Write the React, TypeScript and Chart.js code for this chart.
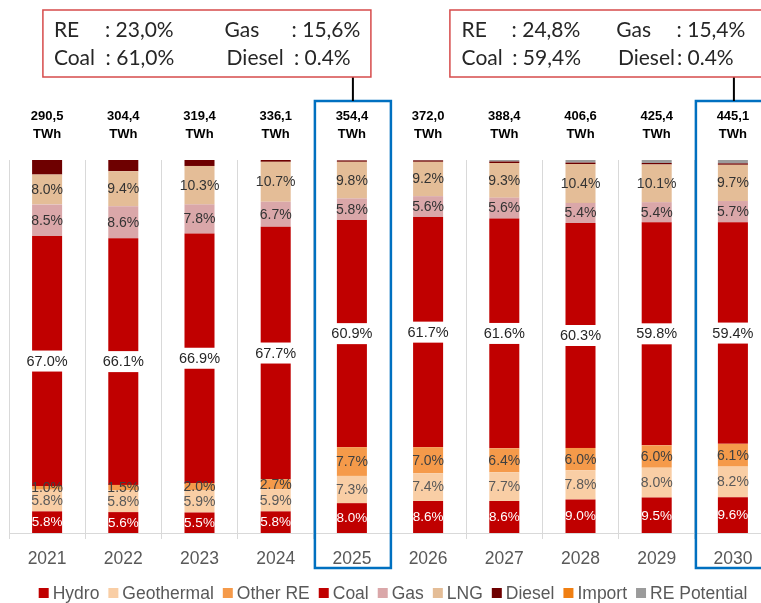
import { useEffect, useRef } from 'react';
import { Chart, registerables } from 'chart.js';

Chart.register(...registerables);

const years = ['2021', '2022', '2023', '2024', '2025', '2026', '2027', '2028', '2029', '2030'];
const hydro = [5.8, 5.6, 5.5, 5.8, 8.0, 8.6, 8.6, 9.0, 9.5, 9.6];
const geothermal = [5.8, 5.8, 5.9, 5.9, 7.3, 7.4, 7.7, 7.8, 8.0, 8.2];
const otherRE = [1.0, 1.5, 2.0, 2.7, 7.7, 7.0, 6.4, 6.0, 6.0, 6.1];
const coal = [67.0, 66.1, 66.9, 67.7, 60.9, 61.7, 61.6, 60.3, 59.8, 59.4];
const gas = [8.5, 8.6, 7.8, 6.7, 5.8, 5.6, 5.6, 5.4, 5.4, 5.7];
const lng = [8.0, 9.4, 10.3, 10.7, 9.8, 9.2, 9.3, 10.4, 10.1, 9.7];
const diesel = [3.9, 3.0, 1.6, 0.5, 0.4, 0.4, 0.4, 0.4, 0.4, 0.4];
const importShare = [0, 0, 0, 0, 0, 0, 0, 0, 0, 0];
const rePotential = [0, 0, 0, 0, 0, 0.1, 0.4, 0.7, 0.8, 0.9];
const totalsTWh = ['290,5', '304,4', '319,4', '336,1', '354,4', '372,0', '388,4', '406,6', '425,4', '445,1'];

const highlightYears = ['2025', '2030'];
const summaryLabels = ['RE', 'Gas', 'Coal', 'Diesel'];
const summary2025 = ['23,0%', '15,6%', '61,0%', '0.4%'];
const summary2030 = ['24,8%', '15,4%', '59,4%', '0.4%'];

const FONT = "'Liberation Sans', Arial, sans-serif";
const BOX_FONT = "Lato, 'Liberation Sans', sans-serif";

const series = [
  { label: 'Hydro', data: hydro, color: '#C00000', text: '#FFFFFF', size: 13.5 },
  { label: 'Geothermal', data: geothermal, color: '#F9CEA5', text: '#595959', size: 14 },
  { label: 'Other RE', data: otherRE, color: '#F59A4A', text: '#404040', size: 14 },
  { label: 'Coal', data: coal, color: '#C00000', text: '#262626', size: 14.5 },
  { label: 'Gas', data: gas, color: '#DAA7A9', text: '#333333', size: 14 },
  { label: 'LNG', data: lng, color: '#E4BD97', text: '#333333', size: 14 },
  { label: 'Diesel', data: diesel, color: '#6E0000', text: '', size: 0 },
  { label: 'Import', data: importShare, color: '#F07F12', text: '', size: 0 },
  { label: 'RE Potential', data: rePotential, color: '#9B9B9B', text: '', size: 0 },
];

const overlay = {
  id: 'overlay',
  afterDatasetsDraw(chart: any) {
    const ctx = chart.ctx as CanvasRenderingContext2D;
    ctx.save();
    ctx.textAlign = 'center';
    ctx.textBaseline = 'middle';
    series.forEach((s, i) => {
      if (!s.size) return;
      const meta = chart.getDatasetMeta(i);
      meta.data.forEach((bar: any, j: number) => {
        const v = s.data[j];
        if (!v) return;
        const p = bar.getProps(['x', 'y', 'base'], true);
        const cy = (p.y + p.base) / 2;
        const txt = v.toFixed(1) + '%';
        ctx.font = `${s.size}px ${FONT}`;
        if (s.label === 'Coal') {
          const w = ctx.measureText(txt).width + 2;
          ctx.fillStyle = '#FFFFFF';
          ctx.fillRect(p.x - w / 2, cy - 10.5, w, 21);
        }
        ctx.fillStyle = s.text;
        ctx.fillText(txt, p.x, cy + 0.5);
      });
    });
    ctx.restore();
  },
  afterDraw(chart: any) {
    const ctx = chart.ctx as CanvasRenderingContext2D;
    const xs = chart.scales.x;
    const area = chart.chartArea;
    ctx.save();
    // totals above bars
    ctx.textAlign = 'center';
    ctx.textBaseline = 'middle';
    ctx.fillStyle = '#000000';
    ctx.font = `bold 13px ${FONT}`;
    years.forEach((y, i) => {
      const x = xs.getPixelForValue(i);
      ctx.fillText(totalsTWh[i], x, area.top - 44);
      ctx.fillText('TWh', x, area.top - 26);
    });
    // highlight boxes
    ctx.strokeStyle = '#0070C0';
    ctx.lineWidth = 2.5;
    highlightYears.forEach((yr) => {
      const x = xs.getPixelForValue(years.indexOf(yr));
      ctx.strokeRect(x - 37, area.top - 59, 76, area.bottom - area.top + 94);
    });
    // summary boxes
    const boxes = [
      { yr: '2025', values: summary2025, left: -309, width: 328, lab: [11, 181.6, 11, 183.7], col: [62, 248.7, 62.7, 251] },
      { yr: '2030', values: summary2030, left: -283, width: 314, lab: [11.7, 166.3, 11.7, 168], col: [61.7, 226.7, 62.3, 227] },
    ];
    boxes.forEach((b) => {
      const cx = xs.getPixelForValue(years.indexOf(b.yr));
      const bx = cx + b.left;
      ctx.strokeStyle = '#000000';
      ctx.lineWidth = 2;
      ctx.beginPath();
      ctx.moveTo(cx + 1, 77);
      ctx.lineTo(cx + 1, area.top - 59);
      ctx.stroke();
      ctx.fillStyle = '#FFFFFF';
      ctx.fillRect(bx, 10, b.width, 67);
      ctx.strokeStyle = '#D64B4B';
      ctx.lineWidth = 1.5;
      ctx.strokeRect(bx, 10, b.width, 67);
      ctx.fillStyle = '#262626';
      ctx.font = `21px ${BOX_FONT}`;
      ctx.textAlign = 'left';
      ctx.textBaseline = 'alphabetic';
      summaryLabels.forEach((lab, k) => {
        const ty = k < 2 ? 37 : 65;
        ctx.fillText(lab, bx + b.lab[k], ty);
        ctx.fillText(': ' + b.values[k], bx + b.col[k], ty);
      });
    });
    // legend
    ctx.font = `17.5px ${FONT}`;
    ctx.textBaseline = 'middle';
    ctx.textAlign = 'left';
    const widths = series.map((s) => ctx.measureText(s.label).width);
    const total = widths.reduce((a, w) => a + w + 14, 0) + 9 * (series.length - 1);
    let x = (area.left + area.right) / 2 + 3 - total / 2;
    const ly = 593;
    series.forEach((s, i) => {
      ctx.fillStyle = s.color;
      ctx.fillRect(x, ly - 5, 10, 10);
      ctx.fillStyle = '#595959';
      ctx.fillText(s.label, x + 14, ly + 1);
      x += 14 + widths[i] + 9;
    });
    ctx.restore();
  },
};

export default function App() {
  const ref = useRef<HTMLCanvasElement>(null);
  useEffect(() => {
    const chart = new Chart(ref.current!, {
      type: 'bar',
      data: {
        labels: years,
        datasets: series.map((s) => ({
          label: s.label,
          data: s.data,
          backgroundColor: s.color,
          borderWidth: 0,
          barPercentage: 0.394,
          categoryPercentage: 1,
        })),
      },
      options: {
        responsive: false,
        animation: false,
        devicePixelRatio: 1,
        layout: { padding: { top: 160, left: 9, right: 0, bottom: 23 } },
        plugins: { legend: { display: false }, tooltip: { enabled: false } },
        scales: {
          x: {
            stacked: true,
            grid: { color: '#D9D9D9', tickLength: 6, offset: true },
            border: { color: '#D9D9D9' },
            ticks: { color: '#595959', font: { family: FONT, size: 17.5 }, padding: 10 },
          },
          y: { stacked: true, display: false, min: 0, max: 100 },
        },
      },
      plugins: [overlay],
    });
    return () => chart.destroy();
  }, []);
  return (
    <div style={{ position: 'fixed', left: 0, top: 0, width: 761, height: 603, overflow: 'hidden', background: '#FFFFFF' }}>
      <canvas ref={ref} width={771} height={603} style={{ display: 'block', width: '771px', height: '603px' }} />
    </div>
  );
}
